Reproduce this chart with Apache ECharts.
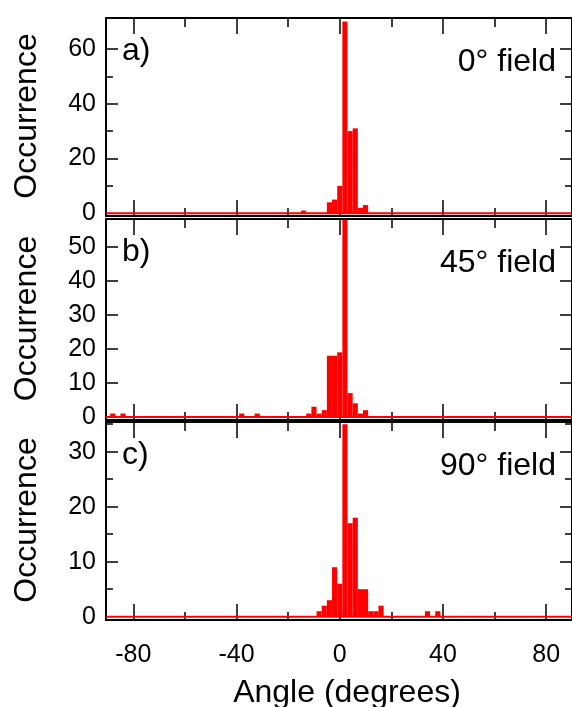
<!DOCTYPE html>
<html>
<head>
<meta charset="utf-8">
<script src="https://cdn.jsdelivr.net/npm/echarts@6/dist/echarts.min.js"></script>
<style>
  html, body { margin: 0; padding: 0; background: #fff; }
  #chart { width: 572px; height: 707px; }
</style>
</head>
<body>
<div id="chart"></div>
<script>
// Histogram bins are 2 degrees wide, listed by bin centre (degrees)
const BIN_WIDTH = 2;

// Panel a) 0° field
const anglesA = [-14, -4, -2, 0, 2, 4, 6, 8, 10];
const countsA = [1, 4, 5, 10, 70, 30, 31, 2, 3];

// Panel b) 45° field
const anglesB = [-88, -84, -38, -32, -12, -10, -8, -6, -4, -2, 0, 2, 4, 6, 8, 10];
const countsB = [1, 1, 1, 1, 1, 3, 1, 2, 18, 18, 19, 58, 7, 4, 1, 2];

// Panel c) 90° field
const anglesC = [-8, -6, -4, -2, 0, 2, 4, 6, 8, 10, 12, 14, 16, 34, 38];
const countsC = [1, 2, 3, 9, 6, 35, 17, 18, 5, 5, 1, 1, 2, 1, 1];

// Axis ticks and labels
const xMajorTicks = [-80, -40, 0, 40, 80];
const xMinorTicks = [-60, -20, 20, 60];
const yMajorA = [0, 20, 40, 60];
const yMinorA = [10, 30, 50];
const yMajorB = [0, 10, 20, 30, 40, 50];
const yMinorB = [];
const yMajorC = [0, 10, 20, 30];
const yMinorC = [5, 15, 25, 35];

const panelTitles = ['a)', 'b)', 'c)'];
const fieldLabels = ['0° field', '45° field', '90° field'];

const FONT = '"Liberation Sans", Arial, Helvetica, sans-serif';
const RED = '#ff0000';
const TEXT_SIZE = 32;
const TICK_SIZE = 25;

const panels = [
  { angles: anglesA, counts: countsA, top: 18, height: 198, yMin: -1, yMax: 71.3, major: yMajorA, minor: yMinorA },
  { angles: anglesB, counts: countsB, top: 219, height: 201, yMin: -0.9, yMax: 58.2, major: yMajorB, minor: yMinorB },
  { angles: anglesC, counts: countsC, top: 422, height: 198, yMin: -0.6, yMax: 35.4, major: yMajorC, minor: yMinorC }
];

function renderBin(params, api) {
  const x = api.value(0);
  const y = api.value(1);
  const p0 = api.coord([x - BIN_WIDTH / 2, y]);
  const p1 = api.coord([x + BIN_WIDTH / 2, 0]);
  return {
    type: 'rect',
    shape: { x: p0[0], y: p0[1], width: p1[0] - p0[0], height: p1[1] - p0[1] },
    style: { fill: RED }
  };
}

const tickStyle = { color: '#000', width: 1.5 };
const grid = [], xAxis = [], yAxis = [], series = [], graphic = [];

panels.forEach((p, i) => {
  grid.push({ left: 106, right: -2, top: p.top, height: p.height, containLabel: false });

  const xBase = {
    type: 'value', gridIndex: i, min: -90.6, max: 90,
    splitLine: { show: false },
    axisLine: { onZero: false, lineStyle: { color: '#000', width: 2 } }
  };
  const lastPanel = i === panels.length - 1;
  // bottom axis, major ticks (labels on the last panel only)
  xAxis.push(Object.assign({}, xBase, {
    position: 'bottom',
    axisTick: { inside: true, length: 16, customValues: xMajorTicks, lineStyle: tickStyle },
    axisLabel: lastPanel
      ? { show: true, customValues: xMajorTicks, fontSize: TICK_SIZE, color: '#000', fontFamily: FONT, margin: 23 }
      : { show: false }
  }));
  // bottom axis, minor ticks
  xAxis.push(Object.assign({}, xBase, {
    position: 'bottom', axisLine: { show: false, onZero: false },
    axisTick: { inside: true, length: 8, customValues: xMinorTicks, lineStyle: tickStyle },
    axisLabel: { show: false }
  }));
  // top mirror, major
  xAxis.push(Object.assign({}, xBase, {
    position: 'top',
    axisTick: { inside: true, length: 16, customValues: xMajorTicks, lineStyle: tickStyle },
    axisLabel: { show: false }
  }));
  // top mirror, minor
  xAxis.push(Object.assign({}, xBase, {
    position: 'top', axisLine: { show: false, onZero: false },
    axisTick: { inside: true, length: 9, customValues: xMinorTicks, lineStyle: tickStyle },
    axisLabel: { show: false }
  }));

  const majorTicks = p.major.filter(v => v !== 0);
  const yBase = {
    type: 'value', gridIndex: i, min: p.yMin, max: p.yMax,
    splitLine: { show: false },
    axisLine: { onZero: false, lineStyle: { color: '#000', width: 2 } }
  };
  yAxis.push(Object.assign({}, yBase, {
    position: 'left',
    axisTick: { inside: true, length: 12, customValues: majorTicks, lineStyle: tickStyle },
    axisLabel: { show: true, customValues: p.major, fontSize: TICK_SIZE, color: '#000', fontFamily: FONT, margin: 10 }
  }));
  yAxis.push(Object.assign({}, yBase, {
    position: 'left', axisLine: { show: false, onZero: false },
    axisTick: { show: p.minor.length > 0, inside: true, length: 7, customValues: p.minor.length ? p.minor : [1], lineStyle: tickStyle },
    axisLabel: { show: false }
  }));
  yAxis.push(Object.assign({}, yBase, {
    position: 'right',
    axisTick: { inside: true, length: 12, customValues: majorTicks, lineStyle: tickStyle },
    axisLabel: { show: false }
  }));
  yAxis.push(Object.assign({}, yBase, {
    position: 'right', axisLine: { show: false, onZero: false },
    axisTick: { show: p.minor.length > 0, inside: true, length: 7, customValues: p.minor.length ? p.minor : [1], lineStyle: tickStyle },
    axisLabel: { show: false }
  }));

  // zero-count baseline across the full angle range
  series.push({
    type: 'line', xAxisIndex: 4 * i, yAxisIndex: 4 * i,
    data: [[-90.6, 0], [90, 0]], showSymbol: false, silent: true,
    lineStyle: { color: RED, width: 2 }, animation: false
  });
  // histogram bins
  series.push({
    type: 'custom', xAxisIndex: 4 * i, yAxisIndex: 4 * i,
    renderItem: renderBin, clip: true, animation: false,
    data: p.angles.map((a, k) => [a, p.counts[k]])
  });

  const mid = p.top + p.height / 2;
  graphic.push({
    type: 'text', x: 27, y: mid - 1, rotation: Math.PI / 2,
    style: { text: 'Occurrence', fontSize: TEXT_SIZE, fontFamily: FONT, fill: '#000', textAlign: 'center', textVerticalAlign: 'middle' }
  });
  graphic.push({
    type: 'text', x: 122, y: p.top + 33,
    style: { text: panelTitles[i], fontSize: TEXT_SIZE, fontFamily: FONT, fill: '#000', textAlign: 'left', textVerticalAlign: 'middle' }
  });
  graphic.push({
    type: 'text', x: 556, y: p.top + 44,
    style: { text: fieldLabels[i], fontSize: TEXT_SIZE, fontFamily: FONT, fill: '#000', textAlign: 'right', textVerticalAlign: 'middle' }
  });
});

graphic.push({
  type: 'text', x: 347, y: 693,
  style: { text: 'Angle (degrees)', fontSize: TEXT_SIZE, fontFamily: FONT, fill: '#000', textAlign: 'center', textVerticalAlign: 'middle' }
});

const chart = echarts.init(document.getElementById('chart'), null, { renderer: 'canvas' });
chart.setOption({
  backgroundColor: '#fff',
  animation: false,
  grid, xAxis, yAxis, series, graphic
});
</script>
</body>
</html>
